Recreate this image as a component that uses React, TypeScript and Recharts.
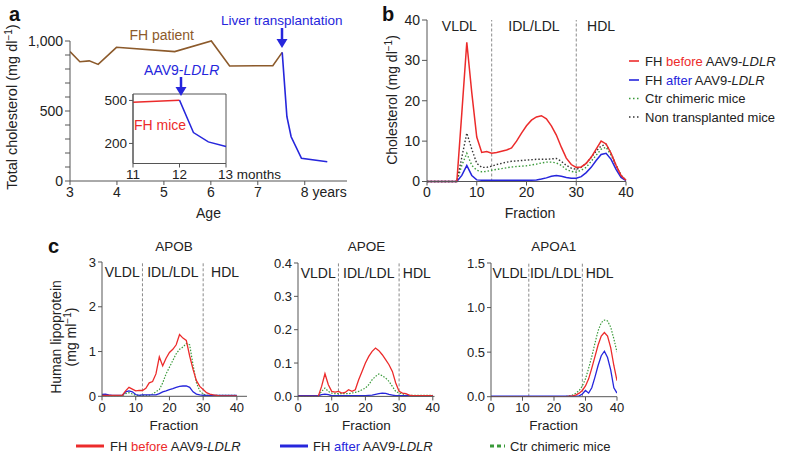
import React from 'react';
import { LineChart, Line, XAxis, YAxis, ReferenceLine, ReferenceArea } from 'recharts';

const FONT = '"Liberation Sans", Arial, Helvetica, sans-serif';
const RED = '#ec2b2b';
const BLUE = '#2626dc';
const GREEN = '#3a9a3a';
const BLACK = '#333333';
const BROWN = '#8c5a2b';
const AXIS = '#555555';
const TXT = '#222222';
const DASH = '#8a8a8a';

// ---------- Panel a ----------
const patientYears = [3.0, 3.21, 3.41, 3.6, 3.99, 5.23, 6.01, 6.4, 7.32, 7.52];
const patientChol = [924, 852, 858, 833, 955, 924, 1000, 821, 824, 919];
const transplantYears = [7.52, 7.62, 7.71, 7.93, 8.48];
const transplantChol = [919, 459, 316, 162, 138];
const ageTicks = [3, 4, 5, 6, 7, 8];
const cholTicks = [0, 100, 200, 300, 400, 500, 600, 700, 800, 900, 1000];
const cholLabels: Record<number, string> = { 0: '0', 500: '500', 1000: '1,000' };

// inset
const miceMonthsBefore = [11, 12];
const miceCholBefore = [488, 502];
const miceMonthsAfter = [12, 12.3, 12.62, 13];
const miceCholAfter = [502, 276, 211, 178];
const monthTicks = [11, 12, 13];
const miceTicks = [200, 500];

// ---------- Panel b ----------
const fractions = [0, 1, 2, 3, 4, 5, 6, 7, 8, 9, 10, 11, 12, 13, 14, 15, 16, 17, 18, 19, 20, 21, 22, 23, 24, 25, 26, 27, 28, 29, 30, 31, 32, 33, 34, 35, 36, 37, 38, 39, 40];
const fracTicks = [0, 10, 20, 30, 40];
const bBefore = [0, 0, 0, 0, 0, 0, 0, 17, 34.5, 22, 11, 7.2, 7.4, 7, 7.2, 7.5, 7.8, 8.3, 10, 12, 13.8, 15.2, 16, 16.3, 15.5, 13.8, 11.5, 8.5, 5.8, 4.2, 3.5, 3.6, 4.5, 6, 8, 10, 9.3, 7, 4, 1.5, 0.3];
const bAfter = [0, 0, 0, 0, 0, 0, 0, 1.5, 4, 1.5, 0.4, 0.3, 0.3, 0.3, 0.3, 0.3, 0.3, 0.3, 0.3, 0.3, 0.3, 0.3, 0.4, 0.6, 0.9, 1.3, 1.5, 1.3, 1.0, 0.8, 0.8, 1.2, 2.2, 3.5, 5.2, 6.7, 7.0, 5.5, 3.0, 1.0, 0.2];
const bCtr = [0, 0, 0, 0, 0, 0, 0, 4, 7, 4, 2.8, 2.4, 2.5, 2.8, 3, 3.2, 3.4, 3.6, 3.7, 3.8, 3.9, 4.1, 4.3, 4.6, 4.8, 4.8, 4.6, 4, 3, 2.5, 2.3, 2.8, 3.5, 5, 6.5, 8, 8.5, 6.5, 4, 1.5, 0.3];
const bNon = [0, 0, 0, 0, 0, 0, 0, 6, 12, 8, 4.5, 3.5, 3.5, 3.8, 4.2, 4.5, 4.8, 5, 5.1, 5.2, 5.3, 5.4, 5.5, 5.5, 5.5, 5.6, 5.7, 5, 4, 3.3, 3, 3.5, 4.5, 6, 7.5, 8.8, 9.2, 7, 4, 1.5, 0.3];
const bTicks = [0, 10, 20, 30, 40];

// ---------- Panel c ----------
const apobBefore = [0.02, 0.02, 0.02, 0.02, 0.02, 0.02, 0.02, 0.12, 0.2, 0.16, 0.12, 0.13, 0.13, 0.18, 0.3, 0.33, 0.5, 0.88, 0.68, 0.85, 0.98, 1.05, 1.15, 1.38, 1.3, 1.25, 0.9, 0.6, 0.35, 0.22, 0.15, 0.08, 0.05, 0.03, 0.02, 0.01, 0.01, 0.01, 0.01, 0.01, 0.01];
const apobAfter = [0.04, 0.05, 0.03, 0.02, 0.02, 0.02, 0.02, 0.1, 0.12, 0.1, 0.04, 0.02, 0.03, 0.03, 0.03, 0.03, 0.03, 0.06, 0.1, 0.12, 0.15, 0.17, 0.2, 0.22, 0.23, 0.23, 0.2, 0.1, 0.05, 0.03, 0.02, 0.02, 0.02, 0.02, 0.02, 0.02, 0.02, 0.02, 0.02, 0.02, 0.02];
const apobCtr = [0.01, 0.01, 0.01, 0.01, 0.01, 0.01, 0.01, 0.06, 0.08, 0.05, 0.02, 0.02, 0.02, 0.02, 0.02, 0.05, 0.1, 0.15, 0.3, 0.5, 0.65, 0.8, 0.95, 1.05, 1.1, 1.18, 1.15, 0.7, 0.3, 0.12, 0.05, 0.02, 0.02, 0.02, 0.02, 0.02, 0.02, 0.02, 0.02, 0.02, 0.02];
const apobTicks = [0, 1, 2, 3];

const apoeBefore = [0, 0, 0, 0, 0, 0, 0, 0.03, 0.068, 0.035, 0.015, 0.013, 0.015, 0.01, 0.012, 0.02, 0.015, 0.02, 0.05, 0.075, 0.1, 0.12, 0.135, 0.145, 0.137, 0.125, 0.11, 0.095, 0.075, 0.04, 0.015, 0.01, 0.008, 0.004, 0.002, 0.002, 0.002, 0.002, 0.002, 0.002, 0.002];
const apoeAfter = [0.002, 0.002, 0.002, 0.002, 0.002, 0.002, 0.002, 0.005, 0.007, 0.005, 0.002, 0.002, 0.002, 0.002, 0.002, 0.002, 0.002, 0.002, 0.002, 0.002, 0.002, 0.003, 0.004, 0.006, 0.008, 0.01, 0.009, 0.006, 0.004, 0.002, 0.002, 0.002, 0.002, 0.002, 0.002, 0.002, 0.002, 0.002, 0.002, 0.002, 0.002];
const apoeCtr = [0, 0, 0, 0, 0, 0, 0, 0.015, 0.025, 0.015, 0.01, 0.008, 0.008, 0.008, 0.008, 0.008, 0.01, 0.012, 0.015, 0.02, 0.025, 0.035, 0.05, 0.06, 0.067, 0.062, 0.055, 0.045, 0.03, 0.015, 0.01, 0.008, 0.003, 0.003, 0.003, 0.003, 0.003, 0.003, 0.003, 0.003, 0.003];
const apoeTicks = [0, 0.1, 0.2, 0.3, 0.4];

const apoa1Before = [0, 0, 0, 0, 0, 0, 0, 0, 0, 0, 0, 0, 0, 0, 0, 0, 0, 0, 0, 0, 0, 0, 0, 0, 0, 0.005, 0.01, 0.02, 0.04, 0.07, 0.12, 0.2, 0.32, 0.45, 0.58, 0.68, 0.72, 0.68, 0.55, 0.35, 0.18];
const apoa1After = [0.005, 0.005, 0.005, 0.005, 0.005, 0.005, 0.005, 0.005, 0.005, 0.005, 0.005, 0.005, 0.005, 0.005, 0.005, 0.005, 0.005, 0.005, 0.005, 0.005, 0.005, 0.005, 0.005, 0.005, 0.005, 0.005, 0.005, 0.005, 0.01, 0.03, 0.07, 0.04, 0.1, 0.22, 0.35, 0.46, 0.51, 0.44, 0.3, 0.1, 0.04];
const apoa1Ctr = [0, 0, 0, 0, 0, 0, 0, 0, 0, 0, 0, 0, 0, 0, 0, 0, 0, 0, 0, 0, 0, 0, 0, 0, 0.005, 0.01, 0.02, 0.04, 0.07, 0.12, 0.2, 0.32, 0.45, 0.6, 0.74, 0.83, 0.86, 0.85, 0.78, 0.65, 0.5];
const apoa1Ticks = [0, 0.5, 1.0, 1.5];

// ---------- tables ----------
const tableA: any[] = patientYears.map((y, i) => ({ year: y, patient: patientChol[i] }));
tableA[tableA.length - 1].post = transplantChol[0];
transplantYears.slice(1).forEach((y, i) => tableA.push({ year: y, post: transplantChol[i + 1] }));

const tableInset: any[] = miceMonthsBefore.map((m, i) => ({ m, before: miceCholBefore[i] }));
tableInset[tableInset.length - 1].after = miceCholAfter[0];
miceMonthsAfter.slice(1).forEach((m, i) => tableInset.push({ m, after: miceCholAfter[i + 1] }));

const tableB = fractions.map((f, i) => ({ f, before: bBefore[i], after: bAfter[i], ctr: bCtr[i], non: bNon[i] }));
const tableApob = fractions.map((f, i) => ({ f, before: apobBefore[i], after: apobAfter[i], ctr: apobCtr[i] }));
const tableApoe = fractions.map((f, i) => ({ f, before: apoeBefore[i], after: apoeAfter[i], ctr: apoeCtr[i] }));
const tableApoa1 = fractions.map((f, i) => ({ f, before: apoa1Before[i], after: apoa1After[i], ctr: apoa1Ctr[i] }));

// ---------- layout helpers ----------
type Rect = { x: number; y: number; w: number; h: number };
const YW = 50, MT = 12, MR = 14, XH = 30;
function frame(r: Rect, yw = YW, mr = MR) {
  return {
    style: { position: 'absolute' as const, left: r.x - yw, top: r.y - MT },
    width: yw + r.w + mr,
    height: MT + r.h + XH,
    margin: { top: MT, right: mr, left: 0, bottom: 0 },
  };
}

const AgeTick = (p: any) => {
  const v = p.payload.value;
  const last = v === 8;
  return (
    <text x={last ? p.x - 4 : p.x} y={p.y} dy="0.71em" textAnchor={last ? 'start' : 'middle'} fontSize={14} fill={TXT} fontFamily={FONT}>
      {last ? '8 years' : String(v)}
    </text>
  );
};
const MonthTick = (p: any) => {
  const v = p.payload.value;
  const last = v === 13;
  return (
    <text x={last ? p.x - 8 : p.x} y={p.y} dy="0.71em" textAnchor={last ? 'start' : 'middle'} fontSize={13.5} fill={TXT} fontFamily={FONT}>
      {last ? '13 months' : String(v)}
    </text>
  );
};

const regionLabel = (txt: string, dy: number, fs: number) => (p: any) => {
  const vb = p.viewBox || p;
  return (
    <text x={vb.x + vb.width / 2} y={vb.y + dy} textAnchor="middle" fontSize={fs} fill={TXT} fontFamily={FONT}>
      {txt}
    </text>
  );
};

const regions = (b1: number, b2: number, end: number, dy: number, fs: number) => [
  <ReferenceArea key="r1" x1={0} x2={b1} fill="none" stroke="none" label={regionLabel('VLDL', dy, fs)} />,
  <ReferenceArea key="r2" x1={b1} x2={b2} fill="none" stroke="none" label={regionLabel('IDL/LDL', dy, fs)} />,
  <ReferenceArea key="r3" x1={b2} x2={end} fill="none" stroke="none" label={regionLabel('HDL', dy, fs)} />,
  <ReferenceLine key="l1" x={b1} stroke={DASH} strokeDasharray="3 2" strokeWidth={1} />,
  <ReferenceLine key="l2" x={b2} stroke={DASH} strokeDasharray="3 2" strokeWidth={1} />,
];

const cLines = [
  <Line key="ctr" dataKey="ctr" stroke={GREEN} strokeWidth={1.2} strokeDasharray="1.5 1.5" dot={false} isAnimationActive={false} />,
  <Line key="after" dataKey="after" stroke={BLUE} strokeWidth={1.3} dot={false} isAnimationActive={false} />,
  <Line key="before" dataKey="before" stroke={RED} strokeWidth={1.3} dot={false} isAnimationActive={false} />,
];

// plot rectangles
const rA: Rect = { x: 70, y: 40.7, w: 277, h: 140 };
const rInset: Rect = { x: 133, y: 93.5, w: 93, h: 69.5 };
const rB: Rect = { x: 427, y: 19.5, w: 199, h: 161.5 };
const rApob: Rect = { x: 101.7, y: 261.7, w: 145, h: 134.3 };
const rApoe: Rect = { x: 298.3, y: 263.3, w: 136.5, h: 133.4 };
const rApoa1: Rect = { x: 490.7, y: 263.3, w: 126, h: 133.7 };

const tickStyle = (fs: number) => ({ fontSize: fs, fill: TXT, fontFamily: FONT });

function CPanel({ r, data, xMax, yMax, yTicks, fmt, b2 }: { r: Rect; data: any[]; xMax: number; yMax: number; yTicks: number[]; fmt: (v: number) => string; b2: number }) {
  const f = frame(r);
  return (
    <div style={f.style}>
      <LineChart width={f.width} height={f.height} margin={f.margin} data={data}>
        <XAxis dataKey="f" type="number" domain={[0, xMax]} ticks={fracTicks} interval={0} stroke={AXIS} tickSize={4} tick={tickStyle(13)} allowDataOverflow />
        <YAxis type="number" domain={[0, yMax]} ticks={yTicks} interval={0} width={YW} stroke={AXIS} tickSize={4} tick={tickStyle(13)} tickFormatter={fmt} allowDataOverflow />
        {regions(12, b2, xMax, 15, 14)}
        {cLines}
      </LineChart>
    </div>
  );
}

export default function App() {
  const fa = frame(rA);
  const fi = frame(rInset, 40, 70);
  const fb = frame(rB);
  return (
    <div style={{ position: 'absolute', left: 0, top: 0, width: 786, height: 460, background: '#fff', fontFamily: FONT, overflow: 'hidden' }}>
      {/* Panel a main */}
      <div style={fa.style}>
        <LineChart width={fa.width} height={fa.height} margin={fa.margin} data={tableA}>
          <XAxis dataKey="year" type="number" domain={[3, 8.9]} ticks={ageTicks} interval={0} stroke={AXIS} tickSize={4} tick={<AgeTick />} allowDataOverflow />
          <YAxis type="number" domain={[0, 1000]} ticks={cholTicks} interval={0} width={YW} stroke={AXIS} tickSize={5} tick={tickStyle(14)} tickFormatter={(v: number) => cholLabels[v] ?? ''} />
          <Line dataKey="patient" stroke={BROWN} strokeWidth={1.6} dot={false} isAnimationActive={false} />
          <Line dataKey="post" stroke={BLUE} strokeWidth={1.6} dot={false} isAnimationActive={false} />
        </LineChart>
      </div>
      {/* Inset */}
      <div style={fi.style}>
        <LineChart width={fi.width} height={fi.height} margin={fi.margin} data={tableInset}>
          <ReferenceArea x1={11} x2={13} y1={60} y2={545} fill="#fff" fillOpacity={0} stroke={AXIS} strokeWidth={1} ifOverflow="extendDomain" />
          <XAxis dataKey="m" type="number" domain={[11, 13]} ticks={monthTicks} interval={0} stroke={AXIS} tickSize={4} tick={<MonthTick />} />
          <YAxis type="number" domain={[60, 545]} ticks={miceTicks} interval={0} width={40} stroke={AXIS} tickSize={4} tick={tickStyle(13.5)} />
          <Line dataKey="before" stroke={RED} strokeWidth={1.5} dot={false} isAnimationActive={false} />
          <Line dataKey="after" stroke={BLUE} strokeWidth={1.5} dot={false} isAnimationActive={false} />
        </LineChart>
      </div>
      {/* Panel b */}
      <div style={fb.style}>
        <LineChart width={fb.width} height={fb.height} margin={fb.margin} data={tableB}>
          <XAxis dataKey="f" type="number" domain={[0, 40]} ticks={fracTicks} interval={0} stroke={AXIS} tickSize={4} tick={tickStyle(14)} />
          <YAxis type="number" domain={[0, 40]} ticks={bTicks} interval={0} width={YW} stroke={AXIS} tickSize={5} tick={tickStyle(14)} />
          {regions(13, 30, 40, 10.5, 14)}
          <Line dataKey="ctr" stroke={GREEN} strokeWidth={1.4} strokeDasharray="1.5 2" dot={false} isAnimationActive={false} />
          <Line dataKey="non" stroke={BLACK} strokeWidth={1.4} strokeDasharray="1.5 2" dot={false} isAnimationActive={false} />
          <Line dataKey="after" stroke={BLUE} strokeWidth={1.5} dot={false} isAnimationActive={false} />
          <Line dataKey="before" stroke={RED} strokeWidth={1.5} dot={false} isAnimationActive={false} />
        </LineChart>
      </div>
      {/* Panel c */}
      <CPanel r={rApob} data={tableApob} xMax={43} yMax={3} yTicks={apobTicks} fmt={(v) => String(v)} b2={30} />
      <CPanel r={rApoe} data={tableApoe} xMax={40.5} yMax={0.4} yTicks={apoeTicks} fmt={(v) => v.toFixed(1)} b2={30} />
      <CPanel r={rApoa1} data={tableApoa1} xMax={40} yMax={1.5} yTicks={apoa1Ticks} fmt={(v) => v.toFixed(1)} b2={29} />

      {/* Overlay text */}
      <svg width={786} height={460} style={{ position: 'absolute', left: 0, top: 0, pointerEvents: 'none' }} fontFamily={FONT}>
        <text x={9} y={21} fontSize={20} fontWeight="bold" fill="#111">a</text>
        <text x={382} y={21} fontSize={20} fontWeight="bold" fill="#111">b</text>
        <text x={48} y={253} fontSize={20} fontWeight="bold" fill="#111">c</text>

        {/* panel a annotations */}
        <text x={161.7} y={40} textAnchor="middle" fontSize={14} fill={BROWN}>FH patient</text>
        <text x={281.7} y={25} textAnchor="middle" fontSize={13.5} fill={BLUE}>Liver transplantation</text>
        <line x1={282} y1={28} x2={282} y2={42} stroke={BLUE} strokeWidth={2.5} />
        <polygon points="276.5,39 287.5,39 282,48" fill={BLUE} />
        <text x={181.7} y={75} textAnchor="middle" fontSize={14} fill={BLUE}>AAV9-<tspan fontStyle="italic">LDLR</tspan></text>
        <line x1={181} y1={77} x2={181} y2={90} stroke={BLUE} strokeWidth={2.5} />
        <polygon points="175.5,87 186.5,87 181,96" fill={BLUE} />
        <text x={160} y={130} textAnchor="middle" fontSize={14} fill={RED}>FH mice</text>

        {/* axis titles */}
        <text transform="translate(17,107) rotate(-90)" textAnchor="middle" fontSize={14.5} fill={TXT}>
          Total cholesterol (mg dl<tspan dy={-5} fontSize={10}>−1</tspan><tspan dy={5}>)</tspan>
        </text>
        <text x={208.5} y={218} textAnchor="middle" fontSize={14} fill={TXT}>Age</text>
        <text transform="translate(397,100) rotate(-90)" textAnchor="middle" fontSize={14} fill={TXT}>
          Cholesterol (mg dl<tspan dy={-5} fontSize={10}>−1</tspan><tspan dy={5}>)</tspan>
        </text>
        <text x={530} y={218} textAnchor="middle" fontSize={14} fill={TXT}>Fraction</text>

        {/* panel b legend */}
        <line x1={629} y1={61} x2={639} y2={61} stroke={RED} strokeWidth={1.6} />
        <text x={645} y={65.5} fontSize={13} fill={TXT}>FH <tspan fill={RED}>before</tspan> AAV9-<tspan fontStyle="italic">LDLR</tspan></text>
        <line x1={629} y1={80} x2={639} y2={80} stroke={BLUE} strokeWidth={1.6} />
        <text x={645} y={84.5} fontSize={13} fill={TXT}>FH <tspan fill={BLUE}>after</tspan> AAV9-<tspan fontStyle="italic">LDLR</tspan></text>
        <line x1={629} y1={98.5} x2={639} y2={98.5} stroke={GREEN} strokeWidth={1.6} strokeDasharray="1.5 2.5" />
        <text x={645} y={103} fontSize={13} fill={TXT}>Ctr chimeric mice</text>
        <line x1={629} y1={117} x2={639} y2={117} stroke={BLACK} strokeWidth={1.6} strokeDasharray="1.5 2.5" />
        <text x={645} y={121.5} fontSize={13} fill={TXT}>Non transplanted mice</text>

        {/* panel c titles */}
        <text x={174} y={251} textAnchor="middle" fontSize={13.5} fill={TXT}>APOB</text>
        <text x={366.5} y={251} textAnchor="middle" fontSize={13.5} fill={TXT}>APOE</text>
        <text x={553.7} y={251} textAnchor="middle" fontSize={13.5} fill={TXT}>APOA1</text>
        <text transform="translate(61,337) rotate(-90)" textAnchor="middle" fontSize={14} fill={TXT}>Human lipoprotein</text>
        <text transform="translate(76,337) rotate(-90)" textAnchor="middle" fontSize={14} fill={TXT}>
          (mg ml<tspan dy={-5} fontSize={10}>−1</tspan><tspan dy={5}>)</tspan>
        </text>
        <text x={174} y={430} textAnchor="middle" fontSize={13.5} fill={TXT}>Fraction</text>
        <text x={366.5} y={430} textAnchor="middle" fontSize={13.5} fill={TXT}>Fraction</text>
        <text x={553.7} y={430} textAnchor="middle" fontSize={13.5} fill={TXT}>Fraction</text>

        {/* panel c legend */}
        <line x1={76} y1={446} x2={104} y2={446} stroke={RED} strokeWidth={3} />
        <text x={110} y={450.5} fontSize={13} fill={TXT}>FH <tspan fill={RED}>before</tspan> AAV9-<tspan fontStyle="italic">LDLR</tspan></text>
        <line x1={280} y1={446} x2={308} y2={446} stroke={BLUE} strokeWidth={3} />
        <text x={313} y={450.5} fontSize={13} fill={TXT}>FH <tspan fill={BLUE}>after</tspan> AAV9-<tspan fontStyle="italic">LDLR</tspan></text>
        <line x1={490} y1={446} x2={505} y2={446} stroke={GREEN} strokeWidth={3} strokeDasharray="4 3" />
        <text x={510} y={450.5} fontSize={13} fill={TXT}>Ctr chimeric mice</text>
      </svg>
    </div>
  );
}
